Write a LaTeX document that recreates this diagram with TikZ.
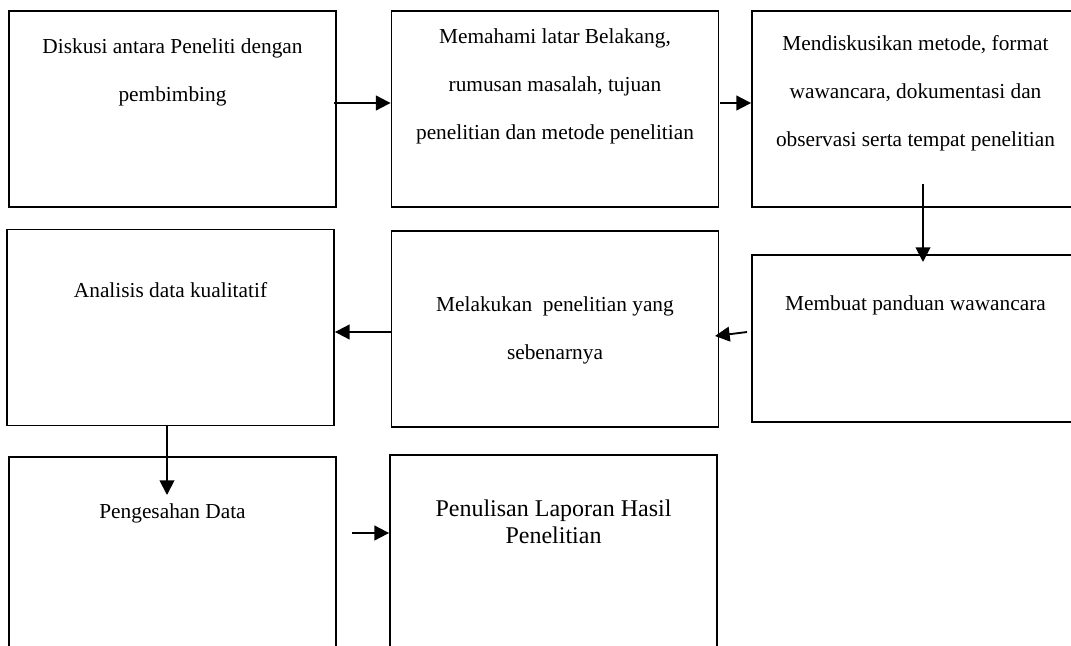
\documentclass[tikz,border=0pt]{standalone}
\usepackage{fontspec}
\setmainfont{Liberation Serif}
\usetikzlibrary{arrows.meta}
\begin{document}
\begin{tikzpicture}[x=0.75pt,y=-0.75pt,
  box/.style={draw=black,line width=1.1pt,rectangle,inner sep=0pt,
    minimum width=245.5pt,minimum height=147pt},
  txt/.style={anchor=base,align=center,inner sep=0pt,
    font=\fontsize{16}{36}\selectfont},
  bigtxt/.style={anchor=base,align=center,inner sep=0pt,
    font=\fontsize{18}{20.25}\selectfont},
  arr/.style={draw=black,line width=1.4pt,-{Triangle[length=11pt,width=11pt]}}]
\useasboundingbox (0,0) rectangle (1071,646);

% row 1
\node[box] (b1) at (172.5,109) {};
\node[box] (b2) at (555,109) {};
\node[box] (b3) at (915.5,109) {};
% row 2
\node[box] (b4) at (170.5,327.5) {};
\node[box] (b5) at (555,329) {};
\node[box,minimum height=125.25pt] (b6) at (915.5,338.5) {};
% row 3
\node[box] (b7) at (172.5,555) {};
\node[box] (b8) at (553.5,553) {};

% labels (anchored at the baseline of their last line)
\node[txt] (t1) at (172.5,101.5) {Diskusi antara Peneliti dengan\\pembimbing};
\node[txt] (t2) at (555,139) {Memahami latar Belakang,\\rumusan masalah, tujuan\\penelitian dan metode penelitian};
\node[txt] (t3) at (915.5,146) {Mendiskusikan metode, format\\wawancara, dokumentasi dan\\observasi serta tempat penelitian};
\node[txt] (t4) at (170.5,297) {Analisis data kualitatif};
\node[txt] (t5) at (555,359) {Melakukan\ \ penelitian yang\\sebenarnya};
\node[txt] (t6) at (915.5,310) {Membuat panduan wawancara};
\node[txt] (t7) at (172.5,518) {Pengesahan Data};
\node[bigtxt] (t8) at (553.5,543) {Penulisan Laporan Hasil\\Penelitian};

% connector start points
\coordinate (s1) at (334,103);
\coordinate (s2) at (720,103);
\coordinate (s3) at (923,184);
\coordinate (e3) at (923,262);
\coordinate (s4) at (747,332);
\coordinate (e4) at (715,336);
\coordinate (s5) at (391,332);
\coordinate (s6) at (167,426);
\coordinate (e6) at (167,495);
\coordinate (s7) at (352,533);

% connectors
\draw[arr] (s1) -- (s1 -| b2.west);
\draw[arr] (s2) -- (s2 -| b3.west);
\draw[arr] (s3) -- (e3);
\draw[arr] (s4) -- (e4);
\draw[arr] (s5) -- (s5 -| b4.east);
\draw[arr] (s6) -- (e6);
\draw[arr] (s7) -- (s7 -| b8.west);
\end{tikzpicture}
\end{document}
